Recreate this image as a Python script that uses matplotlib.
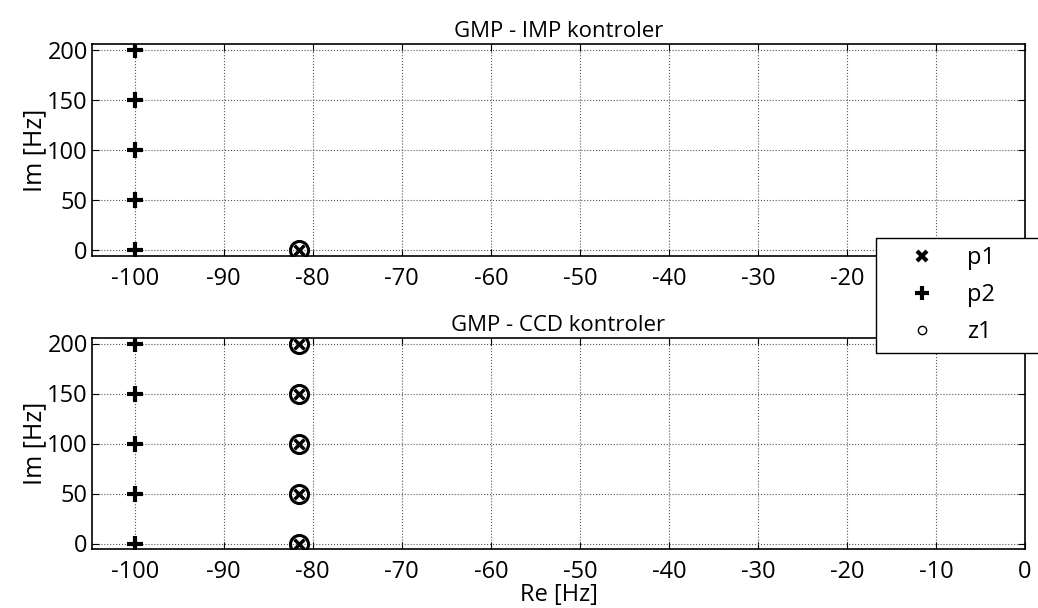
import numpy as np
import matplotlib
matplotlib.use("Agg")
import matplotlib.pyplot as plt
from matplotlib.lines import Line2D

plt.rcParams['font.family'] = ['Open Sans', 'DejaVu Sans']

im_vals = [0, 50, 100, 150, 200]
p2_re = -100
p1_re = -81.6
z1_re = -81.6

# GMP - IMP: only real-axis p1/z1
imp_p1_im = [0]
imp_z1_im = [0]
# GMP - CCD
ccd_p1_im = [0, 50, 100, 150, 200]
ccd_z1_im = [0, 50, 100, 150, 200]

titles = ["GMP - IMP kontroler", "GMP - CCD kontroler"]
xticks = [-100, -90, -80, -70, -60, -50, -40, -30, -20, -10, 0]
yticks = [0, 50, 100, 150, 200]

fig = plt.figure(figsize=(10.38, 6.08), dpi=100)
ax1 = fig.add_axes([92/1038, 1-256/608, 933/1038, 212/608])
ax2 = fig.add_axes([92/1038, 1-549/608, 933/1038, 211/608])

data = [(imp_p1_im, imp_z1_im), (ccd_p1_im, ccd_z1_im)]
for ax, title, (p1_im, z1_im) in zip([ax1, ax2], titles, data):
    ax.plot([p1_re]*len(p1_im), p1_im, linestyle='none', marker='x',
            color='black', markersize=7, markeredgewidth=2.5)
    ax.plot([p2_re]*len(im_vals), im_vals, linestyle='none', marker='+',
            color='black', markersize=12, markeredgewidth=3)
    ax.plot([z1_re]*len(z1_im), z1_im, linestyle='none', marker='o',
            markerfacecolor='none', markeredgecolor='black',
            markersize=13, markeredgewidth=2.2)
    ax.set_xlim(-104.8, 0)
    ax.set_ylim(-5.5, 205.5)
    ax.set_xticks(xticks)
    ax.set_yticks(yticks)
    ax.set_xticklabels([str(t) for t in xticks])
    ax.grid(True, linestyle=':', color='#555555', linewidth=0.8)
    ax.tick_params(direction='in', top=True, right=True, labelsize=17,
                   length=5)
    ax.tick_params(axis='x', pad=8)
    ax.tick_params(axis='y', pad=3)
    for s in ax.spines.values():
        s.set_linewidth(1.2)
    ax.set_title(title, fontsize=16, pad=5)
    ax.set_ylabel("Im [Hz]", fontsize=18, labelpad=0)

ax2.set_xlabel("Re [Hz]", fontsize=17, labelpad=-1)

lh = [Line2D([], [], linestyle='none', marker='x', color='black', markersize=7, markeredgewidth=3),
      Line2D([], [], linestyle='none', marker='+', color='black', markersize=10, markeredgewidth=3),
      Line2D([], [], linestyle='none', marker='o', markerfacecolor='none', markeredgecolor='black', markersize=6, markeredgewidth=1)]
leg = fig.legend(lh, ["p1", "p2", "z1"], loc='upper left',
                 bbox_to_anchor=(876/1038, 1-238/608-0.01, 190/1038, 0.01),
                 mode='expand', fontsize=17,
                 frameon=True, fancybox=False, edgecolor='black',
                 framealpha=1, borderpad=0.35, labelspacing=0.55,
                 handlelength=3.2, handletextpad=0.3, borderaxespad=0)
leg.get_frame().set_linewidth(1.0)

fig.savefig("out.png", dpi=100)
